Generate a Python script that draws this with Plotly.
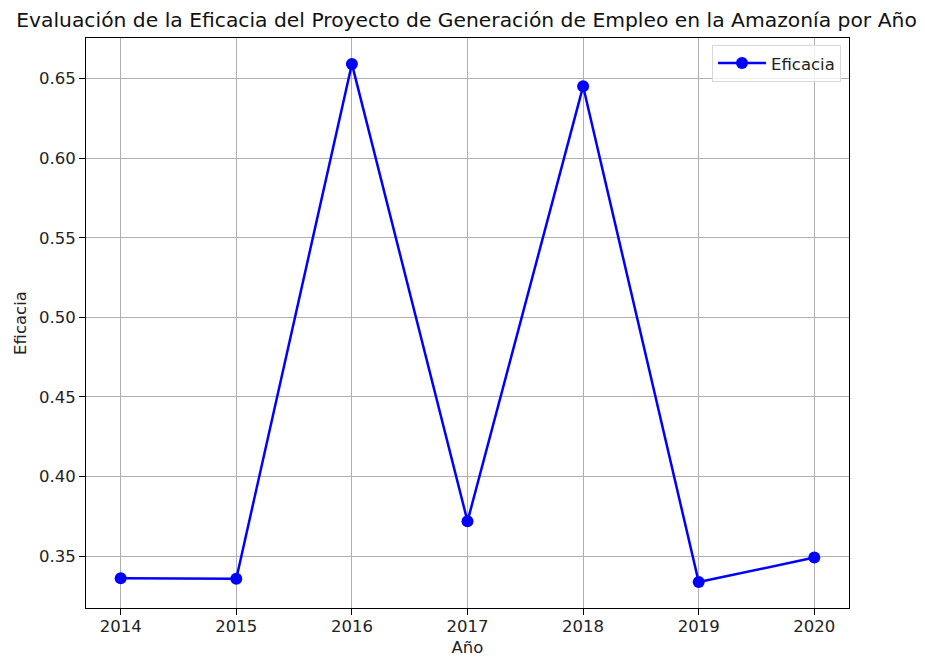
import plotly.graph_objects as go

years = [2014, 2015, 2016, 2017, 2018, 2019, 2020]
eficacia = [0.3360, 0.3357, 0.6593, 0.3718, 0.6452, 0.3336, 0.3490]
y_ticks = [0.35, 0.40, 0.45, 0.50, 0.55, 0.60, 0.65]
y_tick_labels = ["0.35", "0.40", "0.45", "0.50", "0.55", "0.60", "0.65"]

font = "DejaVu Sans"
fs = 16.5

fig = go.Figure()
fig.add_trace(go.Scatter(
    x=years, y=eficacia, mode="lines+markers", name="Eficacia",
    line=dict(color="blue", width=2.5),
    marker=dict(color="blue", size=12),
))

ymin, ymax = min(eficacia), max(eficacia)
pad = (ymax - ymin) * 0.05

fig.update_layout(
    width=917, height=649,
    margin=dict(l=78, r=76, t=30, b=49),
    paper_bgcolor="white", plot_bgcolor="white",
    font=dict(family=font, size=fs, color="#222"),
    title=dict(text="Evaluación de la Eficacia del Proyecto de Generación de Empleo en la Amazonía por Año",
               x=0.5, xanchor="center", y=0.9815, yanchor="middle",
               font=dict(size=20.3, family=font, color="#111")),
    showlegend=True,
    legend=dict(x=0.9895, y=0.988, xanchor="right", yanchor="top",
                bgcolor="rgba(255,255,255,0.8)", bordercolor="#d8d8d8", borderwidth=1,
                itemwidth=48,
                font=dict(size=fs, family=font)),
    xaxis=dict(
        range=[2013.7, 2020.3], tickmode="array", tickvals=years,
        ticktext=[str(y) for y in years], automargin=False,
        ticklabelstandoff=-3,
        showline=True, linecolor="black", linewidth=1, mirror=True,
        ticks="outside", ticklen=6, tickcolor="black",
        showgrid=True, gridcolor="#b0b0b0", gridwidth=1, zeroline=False,
        title=dict(text="Año", font=dict(size=fs, family=font), standoff=8),
    ),
    yaxis=dict(
        range=[ymin - pad, ymax + pad], tickmode="array", tickvals=y_ticks,
        ticktext=y_tick_labels, automargin=False,
        showline=True, linecolor="black", linewidth=1, mirror=True,
        ticks="outside", ticklen=6, tickcolor="black",
        showgrid=True, gridcolor="#b0b0b0", gridwidth=1, zeroline=False,
        title=dict(text="Eficacia", font=dict(size=fs, family=font), standoff=8),
    ),
)

fig.write_html("out.html")
